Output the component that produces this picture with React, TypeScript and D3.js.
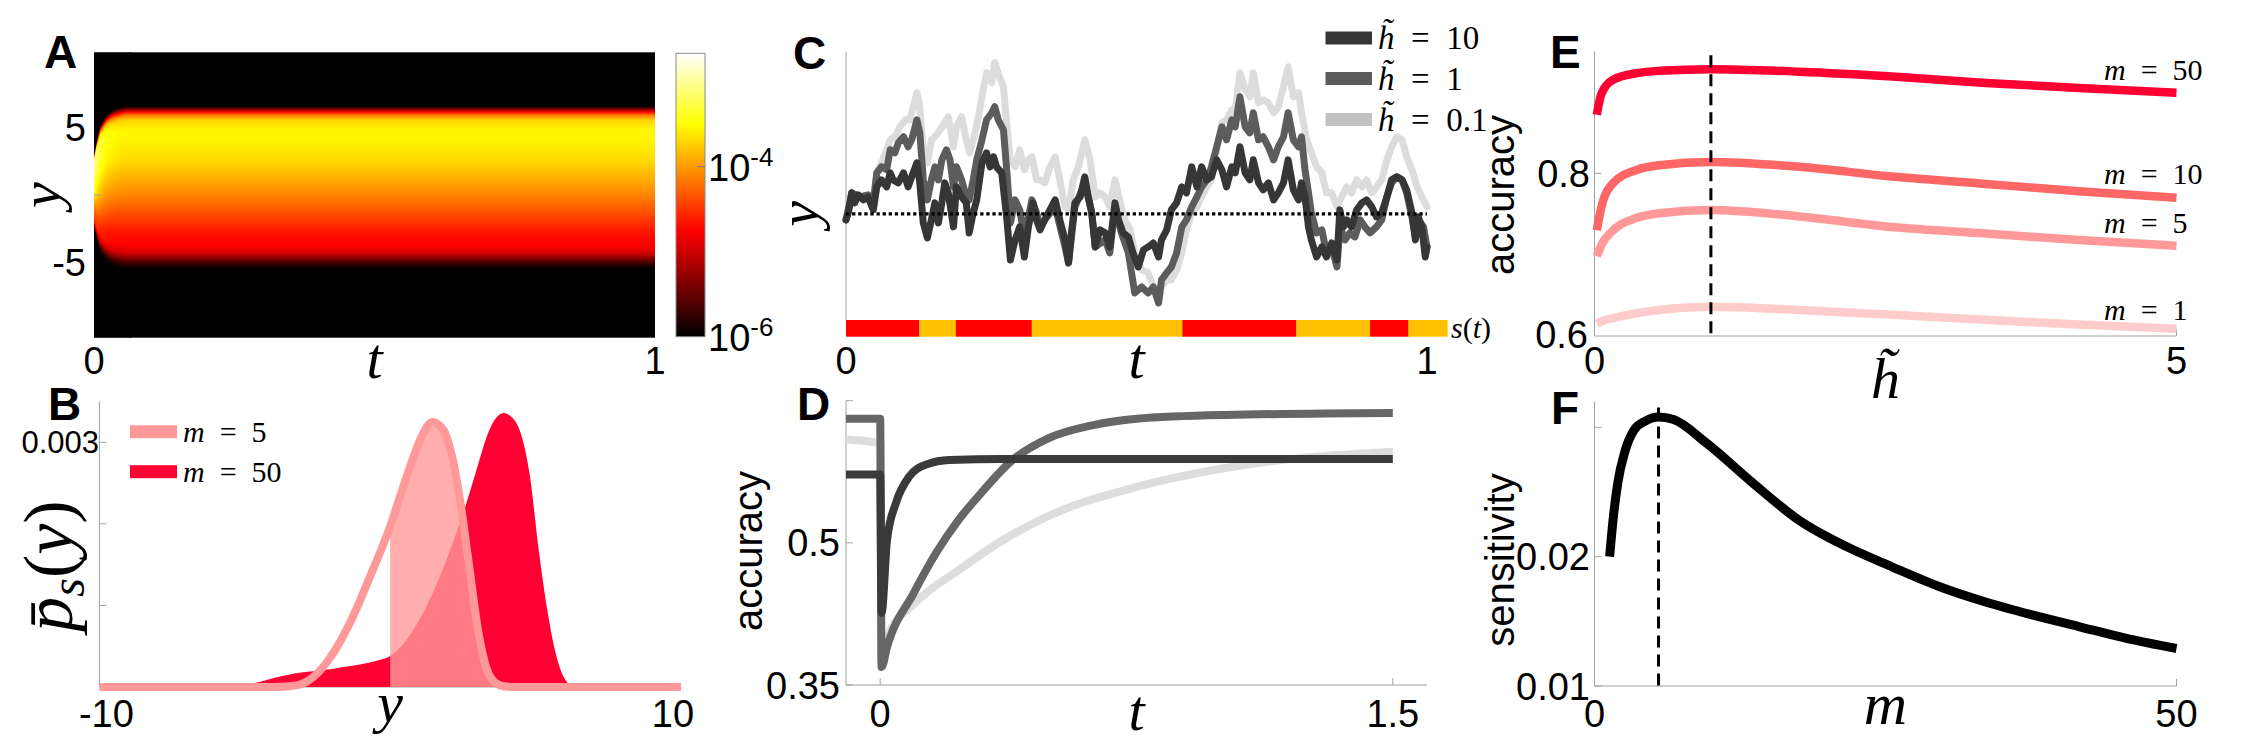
import React from "react";
import * as d3 from "d3";

type P = [number, number];

// ================= Panel A : log10 density p(y,t) =================
const heatProfileY = [-10.5, -5.4, -5.03, -4.66, -4.3, -3.8, -2.82, -1.84, -0.86, 0.12, 1.35, 2.58, 3.8, 4.78, 5.52, 5.89, 6.13, 6.3, 6.5, 6.6, 10.5];
const heatProfileLog = [-6.3, -5.97, -5.73, -5.33, -5.0, -4.77, -4.67, -4.47, -4.27, -4.07, -3.87, -3.67, -3.57, -3.53, -3.73, -4.17, -4.8, -5.33, -5.93, -6.3, -6.3];
const spreadT = [0, 0.005, 0.011, 0.02, 0.027, 0.035, 0.043, 0.058];
const spreadS = [0.45, 0.62, 0.78, 0.88, 0.93, 0.96, 0.98, 1];
const spreadBoost = [0.55, 0.4, 0.25, 0.12, 0.07, 0.03, 0.01, 0];
const cbarLogRange = [-6, -2.667];
const cbarTicks = [-4, -6];
const heatYTicks = [5, -5];
const heatXTicks = [0, 1];

// ================= Panel B : stationary densities (x1e-3) =================
const bM5: P[] = [[-10, 0], [-4, 0], [-3.5, 0.01], [-3.1, 0.03], [-2.5, 0.17], [-1.9, 0.45], [-1.3, 0.85], [-0.7, 1.35], [0, 1.97], [0.35, 2.35], [0.78, 2.8], [1.08, 3.07], [1.45, 3.25], [1.83, 3.15], [2.13, 2.82], [2.42, 2.25], [2.72, 1.47], [3.02, 0.7], [3.32, 0.22], [3.62, 0.05], [3.9, 0.01], [4.3, 0], [10, 0]];
const bM50: P[] = [[-10, 0], [-6, 0], [-5.6, 0.01], [-5, 0.03], [-4.5, 0.06], [-4, 0.11], [-3.5, 0.15], [-3, 0.18], [-2.5, 0.2], [-2, 0.22], [-1.5, 0.25], [-1, 0.28], [-0.5, 0.32], [0, 0.38], [0.5, 0.55], [1, 0.82], [1.5, 1.18], [2, 1.62], [2.5, 2.12], [3, 2.7], [3.3, 3.05], [3.6, 3.28], [3.9, 3.36], [4.2, 3.3], [4.5, 3.1], [4.8, 2.6], [5.1, 1.7], [5.4, 0.95], [5.7, 0.4], [6, 0.1], [6.3, 0.01], [6.6, 0], [10, 0]];
const bYTicks = [1, 2, 3];
const bLegend = ["5", "50"];

// ================= Panel C : sample trajectories =================
const traceH10: P[] = [[0, -0.6], [0.004, 0.1], [0.01, 2.1], [0.015, 1.1], [0.021, 1.9], [0.03, 1.4], [0.038, 1.7], [0.047, 0.4], [0.053, 2.7], [0.061, 3.4], [0.07, 2.7], [0.076, 4.1], [0.081, 3.4], [0.09, 3.1], [0.099, 4.1], [0.107, 2.7], [0.113, 3.7], [0.122, 5.1], [0.127, 3.1], [0.133, -0.9], [0.14, -2.4], [0.147, -0.6], [0.153, 1.1], [0.159, -0.9], [0.165, 1.1], [0.17, 3.1], [0.176, 2.1], [0.185, -1.3], [0.19, 2.7], [0.199, 1.7], [0.207, 1.1], [0.212, -1.9], [0.219, 0.1], [0.225, 1.4], [0.234, 5.1], [0.242, 6.1], [0.248, 4.7], [0.254, 5.7], [0.259, 4.7], [0.268, 4.1], [0.277, -0.6], [0.283, -4.6], [0.291, -2.6], [0.299, -1.3], [0.307, -4.3], [0.314, -1.3], [0.322, 1.1], [0.328, -0.6],
[0.334, -1.6], [0.342, -0.6], [0.351, 0.4], [0.36, 1.4], [0.368, -0.6], [0.377, -2.6], [0.383, -4.9], [0.388, -1.9], [0.394, 1.1], [0.403, 1.7], [0.411, 3.7], [0.417, 1.7], [0.423, 0.1], [0.429, -3.3], [0.437, -1.6], [0.446, -1.9], [0.454, -3.3], [0.463, 1.1], [0.469, -0.6], [0.477, -1.9], [0.486, -2.3], [0.494, -3.9], [0.503, -5.3], [0.512, -3.6], [0.52, -3.3], [0.529, -2.9], [0.538, -4.3], [0.543, -2.6], [0.552, -1.6], [0.56, 0.4], [0.569, 1.1], [0.578, 2.7], [0.586, 2.1], [0.595, 4.7], [0.604, 2.7], [0.612, 4.7], [0.621, 3.4], [0.629, 3.7], [0.638, 5.4], [0.647, 4.4], [0.655, 2.7], [0.664, 4.7],
[0.67, 4.1], [0.678, 6.7], [0.687, 4.1], [0.695, 3.4], [0.701, 5.4], [0.71, 3.1], [0.718, 2.4], [0.727, 3.1], [0.736, 1.4], [0.744, 2.1], [0.753, 3.1], [0.761, 5.4], [0.77, 2.4], [0.779, 1.4], [0.784, 3.1], [0.79, 1.7], [0.796, -1.3], [0.801, -2.6], [0.81, -4.3], [0.819, -3.3], [0.827, -4.3], [0.836, -2.9], [0.845, -4.6], [0.85, 0.4], [0.856, -1.3], [0.862, -0.6], [0.87, -1.3], [0.879, 0.4], [0.888, 1.1], [0.896, 1.4], [0.905, 0.7], [0.913, -0.3], [0.922, 0.1], [0.931, 1.7], [0.939, 3.4], [0.948, 3.7], [0.957, 3.4], [0.965, 2.4], [0.974, 0.1], [0.98, -2.6], [0.985, -0.3], [0.991, -1.3], [0.997, -4.3], [1, -3.3]];
const traceH1: P[] = [[0, -0.6], [0.01, 2.1], [0.024, 1.7], [0.038, 1.9], [0.047, 1.1], [0.053, 4.1], [0.061, 4.7], [0.07, 4.4], [0.076, 6.4], [0.084, 6.1], [0.09, 7.1], [0.099, 7.7], [0.107, 6.7], [0.113, 7.4], [0.122, 9.4], [0.127, 8.1], [0.133, 3.4], [0.14, 1.4], [0.147, 3.4], [0.153, 4.7], [0.159, 3.4], [0.165, 5.4], [0.173, 6.4], [0.179, 5.4], [0.185, 2.7], [0.19, 4.7], [0.199, 3.4], [0.207, 1.7], [0.212, 1.4], [0.219, 3.4], [0.225, 5.4], [0.234, 7.4], [0.242, 9.4], [0.251, 10.1], [0.256, 10.7], [0.262, 9.4], [0.271, 8.4], [0.277, 4.1], [0.283, -0.9], [0.291, 1.4], [0.299, 0.4], [0.307, -2.3], [0.314, -0.3], [0.32, 1.4], [0.328, 0.1],
[0.334, -1.3], [0.342, -0.6], [0.36, 0.7], [0.377, -3.3], [0.383, -4.9], [0.394, 0.7], [0.411, 3.1], [0.423, 0.1], [0.429, -3.3], [0.446, -2.6], [0.454, -3.9], [0.463, 0.7], [0.474, -1.9], [0.486, -3.9], [0.497, -7.9], [0.509, -7.3], [0.52, -7.9], [0.529, -7.3], [0.538, -8.9], [0.543, -6.6], [0.552, -5.9], [0.56, -5.3], [0.569, -3.9], [0.578, -1.3], [0.586, -0.6], [0.595, 0.7], [0.604, 1.7], [0.612, 2.7], [0.621, 3.4], [0.629, 4.7], [0.638, 6.7], [0.647, 8.7], [0.655, 7.4], [0.664, 9.4],
[0.67, 8.7], [0.678, 11.7], [0.687, 8.7], [0.695, 8.1], [0.701, 10.1], [0.71, 7.4], [0.718, 7.7], [0.727, 6.7], [0.736, 5.4], [0.744, 6.7], [0.753, 7.7], [0.761, 10.1], [0.77, 7.4], [0.779, 6.7], [0.784, 7.7], [0.79, 4.4], [0.796, 2.1], [0.801, 0.1], [0.81, -1.9], [0.819, -1.6], [0.827, -3.9], [0.836, -3.3], [0.845, -5.3], [0.85, -1.3], [0.859, -2.6], [0.867, -1.9], [0.876, -2.3], [0.885, -0.6], [0.893, -1.3], [0.902, -1.9], [0.913, -1.3], [0.922, -0.6], [0.931, 1.7], [0.939, 3.1], [0.948, 3.7], [0.957, 3.4], [0.965, 2.1], [0.974, -0.3], [0.98, -2.3], [0.985, -0.6], [0.994, -1.3], [1, -3.3]];
const traceH01: P[] = [[0, -0.6], [0.01, 2.1], [0.024, 1.7], [0.047, 1.4], [0.053, 4.1], [0.061, 5.1], [0.07, 6.4], [0.076, 7.4], [0.084, 7.7], [0.093, 8.7], [0.102, 9.4], [0.11, 9.4], [0.116, 10.7], [0.122, 12.1], [0.127, 10.7], [0.133, 6.4], [0.14, 5.1], [0.147, 7.4], [0.153, 7.7], [0.162, 8.4], [0.17, 9.1], [0.176, 9.7], [0.185, 6.7], [0.19, 8.7], [0.199, 9.7], [0.207, 7.4], [0.213, 6.1], [0.222, 8.1], [0.228, 9.7], [0.236, 12.4], [0.242, 14.1], [0.251, 13.1], [0.256, 15.1], [0.264, 13.7], [0.271, 12.7], [0.277, 8.7], [0.283, 5.4], [0.291, 4.7], [0.299, 6.4], [0.307, 4.4], [0.314, 5.4], [0.32, 5.7], [0.328, 3.4],
[0.334, 3.4], [0.342, 3.1], [0.351, 4.7], [0.36, 5.7], [0.368, 3.4], [0.377, 0.7], [0.383, 0.4], [0.391, 3.4], [0.4, 4.7], [0.411, 7.4], [0.42, 5.4], [0.429, 1.7], [0.437, 2.1], [0.446, 1.7], [0.454, 0.7], [0.463, 3.4], [0.472, 1.1], [0.48, -0.6], [0.489, -1.6], [0.497, -3.9], [0.509, -5.6], [0.52, -5.9], [0.529, -7.3], [0.538, -8.6], [0.543, -7.3], [0.552, -6.6], [0.56, -6.6], [0.569, -5.6], [0.578, -3.9], [0.586, -1.6], [0.595, 0.1], [0.604, 0.7], [0.612, 1.7], [0.621, 2.7], [0.629, 3.4], [0.638, 6.4], [0.647, 9.1], [0.655, 9.4], [0.664, 10.4],
[0.67, 10.4], [0.678, 14.1], [0.687, 12.4], [0.695, 11.7], [0.701, 14.1], [0.71, 11.1], [0.718, 11.4], [0.727, 11.1], [0.736, 10.1], [0.744, 10.7], [0.753, 12.7], [0.761, 14.7], [0.77, 11.7], [0.779, 12.1], [0.784, 10.1], [0.793, 7.4], [0.801, 6.1], [0.81, 4.7], [0.819, 4.1], [0.827, 2.1], [0.836, 2.1], [0.845, 0.7], [0.853, 1.7], [0.862, 2.7], [0.87, 2.1], [0.879, 3.4], [0.888, 2.7], [0.896, 3.4], [0.905, 2.1], [0.913, 2.7], [0.922, 3.4], [0.931, 5.4], [0.939, 6.7], [0.948, 7.7], [0.957, 7.4], [0.965, 5.7], [0.974, 4.4], [0.983, 2.7], [0.991, 1.7], [1, 0.7]];
const sSwitchTimes = [0, 0.126, 0.189, 0.3196, 0.579, 0.775, 0.902, 0.968, 1.035];
const sStates = [1, 0, 1, 0, 1, 0, 1, 0];
const cLegend = ["10", "1", "0.1"];

// ================= Panel D : accuracy vs time after switch =================
const dH10: P[] = [[-0.1, 0.572], [0, 0.572], [0.004, 0.426], [0.02, 0.503], [0.046, 0.542], [0.085, 0.57], [0.137, 0.583], [0.203, 0.5874], [0.36, 0.5885], [1.5, 0.5885]];
const dH1: P[] = [[-0.1, 0.631], [0, 0.631], [0.004, 0.369], [0.02, 0.39], [0.098, 0.447], [0.163, 0.489], [0.229, 0.524], [0.294, 0.552], [0.386, 0.587], [0.49, 0.61], [0.62, 0.624], [0.75, 0.631], [1.01, 0.635], [1.5, 0.637]];
const dH01: P[] = [[-0.1, 0.609], [0, 0.605], [0.004, 0.375], [0.02, 0.4], [0.1, 0.436], [0.229, 0.471], [0.36, 0.503], [0.49, 0.528], [0.75, 0.559], [1.01, 0.579], [1.275, 0.591], [1.5, 0.596]];
const dYTicks = [0.35, 0.5, 0.65];
const dYLabels = [0.35, 0.5];
const dXTicks = [0, 1.5];

// ================= Panel E : accuracy vs h =================
const eH = [0.02, 0.06, 0.16, 0.36, 0.56, 1.0, 1.76, 2.56, 3.36, 4.16, 5.0];
const eM50 = [0.872, 0.898, 0.915, 0.923, 0.926, 0.928, 0.925, 0.919, 0.911, 0.905, 0.899];
const eM10 = [0.73, 0.759, 0.788, 0.804, 0.81, 0.814, 0.808, 0.796, 0.787, 0.778, 0.77];
const eM5 = [0.698, 0.712, 0.73, 0.745, 0.751, 0.755, 0.747, 0.734, 0.726, 0.718, 0.711];
const eM1 = [0.615, 0.618, 0.622, 0.628, 0.632, 0.636, 0.632, 0.626, 0.62, 0.614, 0.609];
const eLabels = ["50", "10", "5", "1"];
const eOptH = 1.0;

// ================= Panel F : sensitivity vs m =================
const fM = [1.3, 1.6, 2.0, 2.6, 3.4, 4.4, 5.5, 6.8, 9.6, 13.6, 17.6, 21.6, 25.6, 29.6, 33.6, 37.6, 41.6, 45.6, 50];
const fSens = [0.02, 0.0229, 0.0257, 0.0281, 0.0298, 0.0305, 0.0308, 0.0306, 0.0288, 0.0257, 0.0228, 0.0208, 0.0192, 0.0177, 0.0165, 0.0155, 0.0146, 0.0137, 0.0129];
const fOptM = 5.5;
const fYTicks = [0.01, 0.02, 0.03];

// ================= styles =================
const SANS = "'Liberation Sans', Arial, Helvetica, sans-serif";
const SERIF = "'Liberation Serif', 'Times New Roman', 'DejaVu Serif', serif";
const AXIS = "#a0a0a0";
const TICK = 38;
const MATH = 58;
const EQ = "\u2002=\u2002";
const RED50 = "#ff0033";
const RED10 = "#ff6666";
const RED5 = "#ff9999";
const RED1 = "#ffcccc";
const G_DARK = "#363636";
const G_MED = "#5c5c5c";
const G_LIGHT = "#dcdcdc";
const G_LIGHT_SW = "#c2c2c2";

function hot(f: number): string {
  const c = (v: number) => Math.max(0, Math.min(1, v));
  const r = c(f / 0.375), g = c((f - 0.375) / 0.375), b = c((f - 0.75) / 0.25);
  return d3.rgb(r * 255, g * 255, b * 255).formatHex();
}

const Letter = ({ x, y, t }: { x: number; y: number; t: string }) => (
  <text x={x} y={y} fontFamily={SANS} fontWeight="bold" fontSize={46}>{t}</text>
);

const TickText = ({ x, y, t, anchor = "middle", size = TICK }: { x: number; y: number; t: string; anchor?: string; size?: number }) => (
  <text x={x} y={y} fontFamily={SANS} fontSize={size} textAnchor={anchor as any}>{t}</text>
);

const MathLabel = ({ x, y, t, size = MATH, rotate = false }: { x: number; y: number; t: string; size?: number; rotate?: boolean }) => (
  <text x={0} y={0} transform={`translate(${x},${y})${rotate ? " rotate(-90)" : ""}`} fontFamily={SERIF} fontStyle="italic" fontSize={size} textAnchor="middle">{t}</text>
);

// ------------------------------------------------------------
function PanelA() {
  const x = d3.scaleLinear().domain([0, 1]).range([94, 655]);
  const y = d3.scaleLinear().domain([-10.5, 10.5]).range([337.7, 52.3]);
  const frac = d3.scaleLinear().domain(cbarLogRange).range([0, 1]).clamp(true);
  const prof = d3.scaleLinear().domain(heatProfileY).range(heatProfileLog).clamp(true);
  const spread = d3.scaleLinear().domain(spreadT).range(spreadS).clamp(true);
  const boost = d3.scaleLinear().domain(spreadT).range(spreadBoost).clamp(true);
  const top = y.range()[1], bot = y.range()[0];
  const offs = d3.range(0, 1.00001, 1 / 190);
  const stopsFor = (t: number) =>
    offs.map((o) => {
      const yy = y.invert(top + o * (bot - top));
      const base = prof(yy / spread(t));
      const w = Math.max(0, Math.min(1, (base + 6) / 2));
      return { o, c: hot(frac(base + boost(t) * w)) };
    });
  const xEdge = x(0.065);
  const cols = d3.range(x(0), xEdge, 1);
  const cb = d3.scaleLinear().domain(cbarLogRange).range([336.7, 53.3]);
  const cbX = 676, cbW = 29;
  return (
    <g>
      <defs>
        {cols.map((px, i) => (
          <linearGradient key={i} id={`ha${i}`} x1={0} y1={0} x2={0} y2={1}>
            {stopsFor(x.invert(px + 0.5)).map((s, k) => <stop key={k} offset={s.o} stopColor={s.c} />)}
          </linearGradient>
        ))}
        <linearGradient id="haFull" x1={0} y1={0} x2={0} y2={1}>
          {stopsFor(1).map((s, k) => <stop key={k} offset={s.o} stopColor={s.c} />)}
        </linearGradient>
        <linearGradient id="cbarGrad" x1={0} y1={1} x2={0} y2={0}>
          {d3.range(0, 1.0001, 1 / 64).map((f, k) => <stop key={k} offset={f} stopColor={hot(f)} />)}
        </linearGradient>
      </defs>
      <rect x={xEdge - 0.5} y={top} width={x(1) - xEdge + 0.5} height={bot - top} fill="url(#haFull)" />
      {cols.map((px, i) => (
        <rect key={i} x={px} y={top} width={1.4} height={bot - top} fill={`url(#ha${i})`} />
      ))}
      <line x1={x(0)} x2={x(0) + 6} y1={y(0)} y2={y(0)} stroke={AXIS} />
      {heatYTicks.map((v) => <TickText key={v} x={86} y={y(v) + 13.5} t={String(v)} anchor="end" />)}
      {heatXTicks.map((v) => <TickText key={v} x={x(v)} y={374} t={String(v)} />)}
      <MathLabel x={x(0.5)} y={378} t="t" />
      <MathLabel x={60} y={y(0)} t="y" rotate />
      {/* colorbar */}
      <rect x={cbX} y={cb(cbarLogRange[1])} width={cbW} height={cb(cbarLogRange[0]) - cb(cbarLogRange[1])} fill="url(#cbarGrad)" stroke="#8a8a8a" strokeWidth={1} />
      <line x1={cbX + cbW - 8} x2={cbX + cbW} y1={cb(-4)} y2={cb(-4)} stroke="#777" />
      {cbarTicks.map((v) => (
        <text key={v} x={708} y={cb(v) + 14} fontFamily={SANS} fontSize={TICK}>
          10<tspan fontSize={26} dy={-15}>{String(v)}</tspan>
        </text>
      ))}
      <Letter x={44} y={68} t="A" />
    </g>
  );
}

// ------------------------------------------------------------
function PanelB() {
  const x = d3.scaleLinear().domain([-10, 10]).range([99.4, 681]);
  const y = d3.scaleLinear().domain([0, 3.5]).range([687, 401.5]);
  const area = d3.area<P>().x((d) => x(d[0])).y0(y(0)).y1((d) => y(d[1])).curve(d3.curveMonotoneX);
  const line = d3.line<P>().x((d) => x(d[0])).y((d) => y(d[1])).curve(d3.curveMonotoneX);
  const m5pos = bM5.filter((d) => d[0] >= 0);
  const legendY = [431.7, 471.7];
  const legendC = [RED5, RED50];
  return (
    <g>
      <line x1={x(-10)} x2={x(-10)} y1={y(3.5)} y2={y(0)} stroke={AXIS} />
      <line x1={x(-10)} x2={x(10)} y1={y(0)} y2={y(0)} stroke={AXIS} />
      {bYTicks.map((v) => <line key={v} x1={x(-10)} x2={x(-10) + 7} y1={y(v)} y2={y(v)} stroke={AXIS} />)}
      <path d={area(bM50) || ""} fill={RED50} />
      <path d={area(m5pos) || ""} fill={RED5} fillOpacity={0.8} />
      <path d={line(bM5) || ""} fill="none" stroke={RED5} strokeWidth={8} strokeLinejoin="round" />
      <TickText x={99} y={y(3) + 11} t="0.003" anchor="end" size={31} />
      <TickText x={x(-10) + 7} y={727} t="-10" />
      <TickText x={x(10) - 8} y={727} t="10" />
      <MathLabel x={x(0)} y={722} t="y" />
      <text transform={`translate(72,566) rotate(-90)`} fontFamily={SERIF} fontSize={70} textAnchor="middle">
        <tspan fontStyle="italic">{"p\u0304"}</tspan>
        <tspan fontStyle="italic" fontSize={48} dy={12}>s</tspan>
        <tspan dy={-12}>(</tspan>
        <tspan fontStyle="italic">y</tspan>
        <tspan>)</tspan>
      </text>
      {bLegend.map((m, i) => (
        <g key={m}>
          <rect x={130} y={legendY[i] - 6.5} width={47} height={13} fill={legendC[i]} />
          <text x={183} y={legendY[i] + 10} fontFamily={SERIF} fontSize={30}>
            <tspan fontStyle="italic">m</tspan>{EQ}{m}
          </text>
        </g>
      ))}
      <Letter x={48} y={420} t="B" />
    </g>
  );
}

// ------------------------------------------------------------
function PanelC() {
  const x = d3.scaleLinear().domain([0, 1]).range([846, 1427]);
  const y = d3.scaleLinear().domain([-10.6, 16.2]).range([320, 51.7]);
  const line = d3.line<P>().x((d) => x(d[0])).y((d) => y(d[1]));
  const barTop = y(-10.6);
  const barH = 16.7;
  const legendY = [38, 78.5, 119.5];
  const legendC = [G_DARK, G_MED, G_LIGHT_SW];
  return (
    <g>
      <line x1={x(0)} x2={x(0)} y1={y(16.2)} y2={barTop} stroke={AXIS} />
      {sStates.map((s, i) => (
        <rect key={i} x={x(sSwitchTimes[i])} y={barTop} width={x(sSwitchTimes[i + 1]) - x(sSwitchTimes[i]) + 0.3} height={barH} fill={s ? "#ff0000" : "#ffc000"} />
      ))}
      <path d={line(traceH01) || ""} fill="none" stroke={G_LIGHT} strokeWidth={7} strokeLinejoin="round" strokeLinecap="round" />
      <path d={line(traceH1) || ""} fill="none" stroke={G_MED} strokeWidth={7} strokeLinejoin="round" strokeLinecap="round" />
      <path d={line(traceH10) || ""} fill="none" stroke={G_DARK} strokeWidth={7} strokeLinejoin="round" strokeLinecap="round" />
      <line x1={x(0)} x2={x(1)} y1={y(0)} y2={y(0)} stroke="#000" strokeWidth={3.4} strokeDasharray="3.3 2.8" />
      <TickText x={x(0)} y={374} t="0" />
      <TickText x={x(1)} y={374} t="1" />
      <MathLabel x={x(0.5)} y={378} t="t" />
      <MathLabel x={818} y={y(0)} t="y" rotate />
      <text x={1451} y={338} fontFamily={SERIF} fontSize={30}>
        <tspan fontStyle="italic">s</tspan>(<tspan fontStyle="italic">t</tspan>)
      </text>
      {cLegend.map((h, i) => (
        <g key={h}>
          <rect x={1325.5} y={legendY[i] - 6.5} width={46.5} height={13} fill={legendC[i]} />
          <text x={1378} y={legendY[i] + 11} fontFamily={SERIF} fontSize={33}>
            <tspan fontStyle="italic">{"h\u0303"}</tspan>{EQ}{h}
          </text>
        </g>
      ))}
      <Letter x={793} y={69} t="C" />
    </g>
  );
}

// ------------------------------------------------------------
function PanelD() {
  const x = d3.scaleLinear().domain([-0.1, 1.6]).range([846, 1427]);
  const y = d3.scaleLinear().domain([0.35, 0.65]).range([685, 400.7]);
  const line = d3.line<P>().x((d) => x(d[0])).y((d) => y(d[1])).curve(d3.curveMonotoneX);
  return (
    <g>
      <line x1={x(-0.1)} x2={x(-0.1)} y1={y(0.65)} y2={y(0.35)} stroke={AXIS} />
      <line x1={x(-0.1)} x2={x(1.6)} y1={y(0.35)} y2={y(0.35)} stroke={AXIS} />
      {dYTicks.map((v) => <line key={v} x1={x(-0.1)} x2={x(-0.1) + 7} y1={y(v)} y2={y(v)} stroke={AXIS} />)}
      {dXTicks.map((v) => <line key={v} x1={x(v)} x2={x(v)} y1={y(0.35)} y2={y(0.35) - 7} stroke={AXIS} />)}
      <path d={line(dH01) || ""} fill="none" stroke="#dddddd" strokeWidth={8} strokeLinejoin="round" />
      <path d={line(dH1) || ""} fill="none" stroke="#666666" strokeWidth={8} strokeLinejoin="round" />
      <path d={line(dH10) || ""} fill="none" stroke="#3a3a3a" strokeWidth={8} strokeLinejoin="round" />
      {dYLabels.map((v) => <TickText key={v} x={840} y={y(v) + 13.5} t={String(v)} anchor="end" />)}
      {dXTicks.map((v) => <TickText key={v} x={x(v)} y={727} t={String(v)} />)}
      <MathLabel x={x(0.75)} y={730} t="t" />
      <text transform={`translate(762,551) rotate(-90)`} fontFamily={SANS} fontSize={40} textAnchor="middle">accuracy</text>
      <Letter x={797} y={420} t="D" />
    </g>
  );
}

// ------------------------------------------------------------
function PanelE() {
  const x = d3.scaleLinear().domain([0, 5]).range([1594.5, 2176.5]);
  const y = d3.scaleLinear().domain([0.6, 0.95]).range([336, 51.3]);
  const line = d3.line<number>().x((_, i) => x(eH[i])).y((d) => y(d)).curve(d3.curveMonotoneX);
  const series = [
    { v: eM50, c: RED50, off: 13 },
    { v: eM10, c: RED10, off: 14 },
    { v: eM5, c: RED5, off: 13 },
    { v: eM1, c: RED1, off: 9 },
  ];
  return (
    <g>
      <line x1={x(0)} x2={x(0)} y1={y(0.95)} y2={y(0.6)} stroke={AXIS} />
      <line x1={x(0)} x2={x(5)} y1={y(0.6)} y2={y(0.6)} stroke={AXIS} />
      <line x1={x(0)} x2={x(0) + 7} y1={y(0.8)} y2={y(0.8)} stroke={AXIS} />
      <line x1={x(5)} x2={x(5)} y1={y(0.6)} y2={y(0.6) - 7} stroke={AXIS} />
      {series.slice().reverse().map((s, i) => (
        <path key={i} d={line(s.v) || ""} fill="none" stroke={s.c} strokeWidth={8.5} />
      ))}
      <line x1={x(eOptH)} x2={x(eOptH)} y1={y(0.95) + 4} y2={y(0.6)} stroke="#000" strokeWidth={3} strokeDasharray="12 7" />
      {series.map((s, i) => (
        <text key={i} x={2104} y={y(s.v[s.v.length - 1]) - s.off} fontFamily={SERIF} fontSize={30}>
          <tspan fontStyle="italic">m</tspan>{EQ}{eLabels[i]}
        </text>
      ))}
      <TickText x={1590} y={y(0.8) + 13.5} t="0.8" anchor="end" />
      <TickText x={1588} y={y(0.6) + 12} t="0.6" anchor="end" />
      <TickText x={x(0)} y={374} t="0" />
      <TickText x={x(5)} y={374} t="5" />
      <MathLabel x={x(2.5)} y={398} t={"h\u0303"} />
      <text transform={`translate(1514,195) rotate(-90)`} fontFamily={SANS} fontSize={40} textAnchor="middle">accuracy</text>
      <Letter x={1550} y={68} t="E" />
    </g>
  );
}

// ------------------------------------------------------------
function PanelF() {
  const x = d3.scaleLinear().domain([0, 50]).range([1594.5, 2176.5]);
  const y = d3.scaleLinear().domain([0.01, 0.032]).range([686, 401.5]);
  const line = d3.line<number>().x((_, i) => x(fM[i])).y((d) => y(d)).curve(d3.curveMonotoneX);
  return (
    <g>
      <line x1={x(0)} x2={x(0)} y1={y(0.032)} y2={y(0.01)} stroke={AXIS} />
      <line x1={x(0)} x2={x(50)} y1={y(0.01)} y2={y(0.01)} stroke={AXIS} />
      {fYTicks.map((v) => <line key={v} x1={x(0)} x2={x(0) + 7} y1={y(v)} y2={y(v)} stroke={AXIS} />)}
      <line x1={x(50)} x2={x(50)} y1={y(0.01)} y2={y(0.01) - 7} stroke={AXIS} />
      <path d={line(fSens) || ""} fill="none" stroke="#000" strokeWidth={9} />
      <line x1={x(fOptM)} x2={x(fOptM)} y1={y(0.032) + 6} y2={y(0.01)} stroke="#000" strokeWidth={3} strokeDasharray="12 7" />
      <TickText x={1590} y={y(0.02) + 13.5} t="0.02" anchor="end" />
      <TickText x={1590} y={y(0.01) + 13.5} t="0.01" anchor="end" />
      <TickText x={x(0)} y={727} t="0" />
      <TickText x={x(50)} y={727} t="50" />
      <MathLabel x={x(25)} y={724} t="m" size={60} />
      <text transform={`translate(1514,560) rotate(-90)`} fontFamily={SANS} fontSize={40} textAnchor="middle">sensitivity</text>
      <Letter x={1551} y={424} t="F" />
    </g>
  );
}

export default function App() {
  return (
    <div style={{ position: "absolute", left: 0, top: 0 }}>
      <svg width={2250} height={750} viewBox="0 0 2250 750" style={{ display: "block", background: "#ffffff" }}>
        <rect width={2250} height={750} fill="#ffffff" />
        <PanelA />
        <PanelB />
        <PanelC />
        <PanelD />
        <PanelE />
        <PanelF />
      </svg>
    </div>
  );
}
